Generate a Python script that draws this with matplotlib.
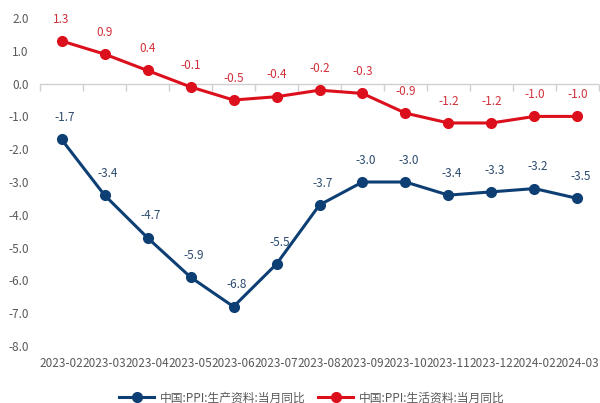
import matplotlib
matplotlib.use("Agg")
import matplotlib.pyplot as plt
from matplotlib.lines import Line2D

plt.rcParams['font.family'] = ['Noto Sans CJK SC', 'DejaVu Sans']
plt.rcParams['axes.unicode_minus'] = False

months = ["2023-02", "2023-03", "2023-04", "2023-05", "2023-06", "2023-07", "2023-08",
          "2023-09", "2023-10", "2023-11", "2023-12", "2024-02", "2024-03"]
producer = [-1.7, -3.4, -4.7, -5.9, -6.8, -5.5, -3.7, -3.0, -3.0, -3.4, -3.3, -3.2, -3.5]
consumer = [1.3, 0.9, 0.4, -0.1, -0.5, -0.4, -0.2, -0.3, -0.9, -1.2, -1.2, -1.0, -1.0]
name_producer = "中国:PPI:生产资料:当月同比"
name_consumer = "中国:PPI:生活资料:当月同比"
yticks = [2.0, 1.0, 0.0, -1.0, -2.0, -3.0, -4.0, -5.0, -6.0, -7.0, -8.0]

blue = "#0d3f74"
red = "#dc0f1c"
blue_txt = "#2a4a6e"
red_txt = "#d2303a"
gray = "#595959"
axis_gray = "#d0d0d0"

fig = plt.figure(figsize=(6.0, 4.03), dpi=100)
ax = fig.add_axes([0.0667, 0.1414, 0.9316, 0.8139])

x = list(range(len(months)))
ax.plot(x, producer, color=blue, lw=2.2, marker='o', ms=7, zorder=3)
ax.plot(x, consumer, color=red, lw=2.2, marker='o', ms=7, zorder=3)

for xi, v in zip(x, producer):
    ax.annotate(f"{v:.1f}", (xi, v), xytext=(2, 11), textcoords='offset points',
                ha='center', va='bottom', fontsize=8.5, color=blue_txt)
for xi, v in zip(x, consumer):
    ax.annotate(f"{v:.1f}", (xi, v), xytext=(0, 11), textcoords='offset points',
                ha='center', va='bottom', fontsize=8.5, color=red_txt)

ax.set_xlim(-0.5, len(months) - 0.5)
ax.set_ylim(-8, 2)
ax.set_yticks(yticks)
ax.set_yticklabels([f"{t:.1f}" for t in yticks])
ax.set_xticks(x)
ax.set_xticklabels(months)
ax.tick_params(axis='both', length=0, labelsize=8.5, labelcolor=gray)
ax.tick_params(axis='x', pad=8)
ax.tick_params(axis='y', pad=8)
for s in ax.spines.values():
    s.set_visible(False)

# zero axis line with boundary ticks
ax.axhline(0, color=axis_gray, lw=1, zorder=1)
sec = ax.secondary_xaxis(0.8)
sec.xaxis.set_ticks_position('bottom')
sec.set_xticks([i - 0.5 for i in range(len(months) + 1)])
sec.set_xticklabels([])
sec.tick_params(axis='x', which='both', direction='out', length=5,
                color=axis_gray, width=1, bottom=True, top=False)
for s in sec.spines.values():
    s.set_visible(False)

handles = [Line2D([], [], color=blue, lw=2.2, marker='o', ms=7),
           Line2D([], [], color=red, lw=2.2, marker='o', ms=7)]
fig.legend(handles, [name_producer, name_consumer], loc='lower center',
           bbox_to_anchor=(0.52, -0.03), ncol=2, frameon=False, fontsize=8.5,
           handlelength=3.0, columnspacing=1.0, handletextpad=0.5,
           labelcolor=gray)

fig.savefig("out.png", dpi=100)
